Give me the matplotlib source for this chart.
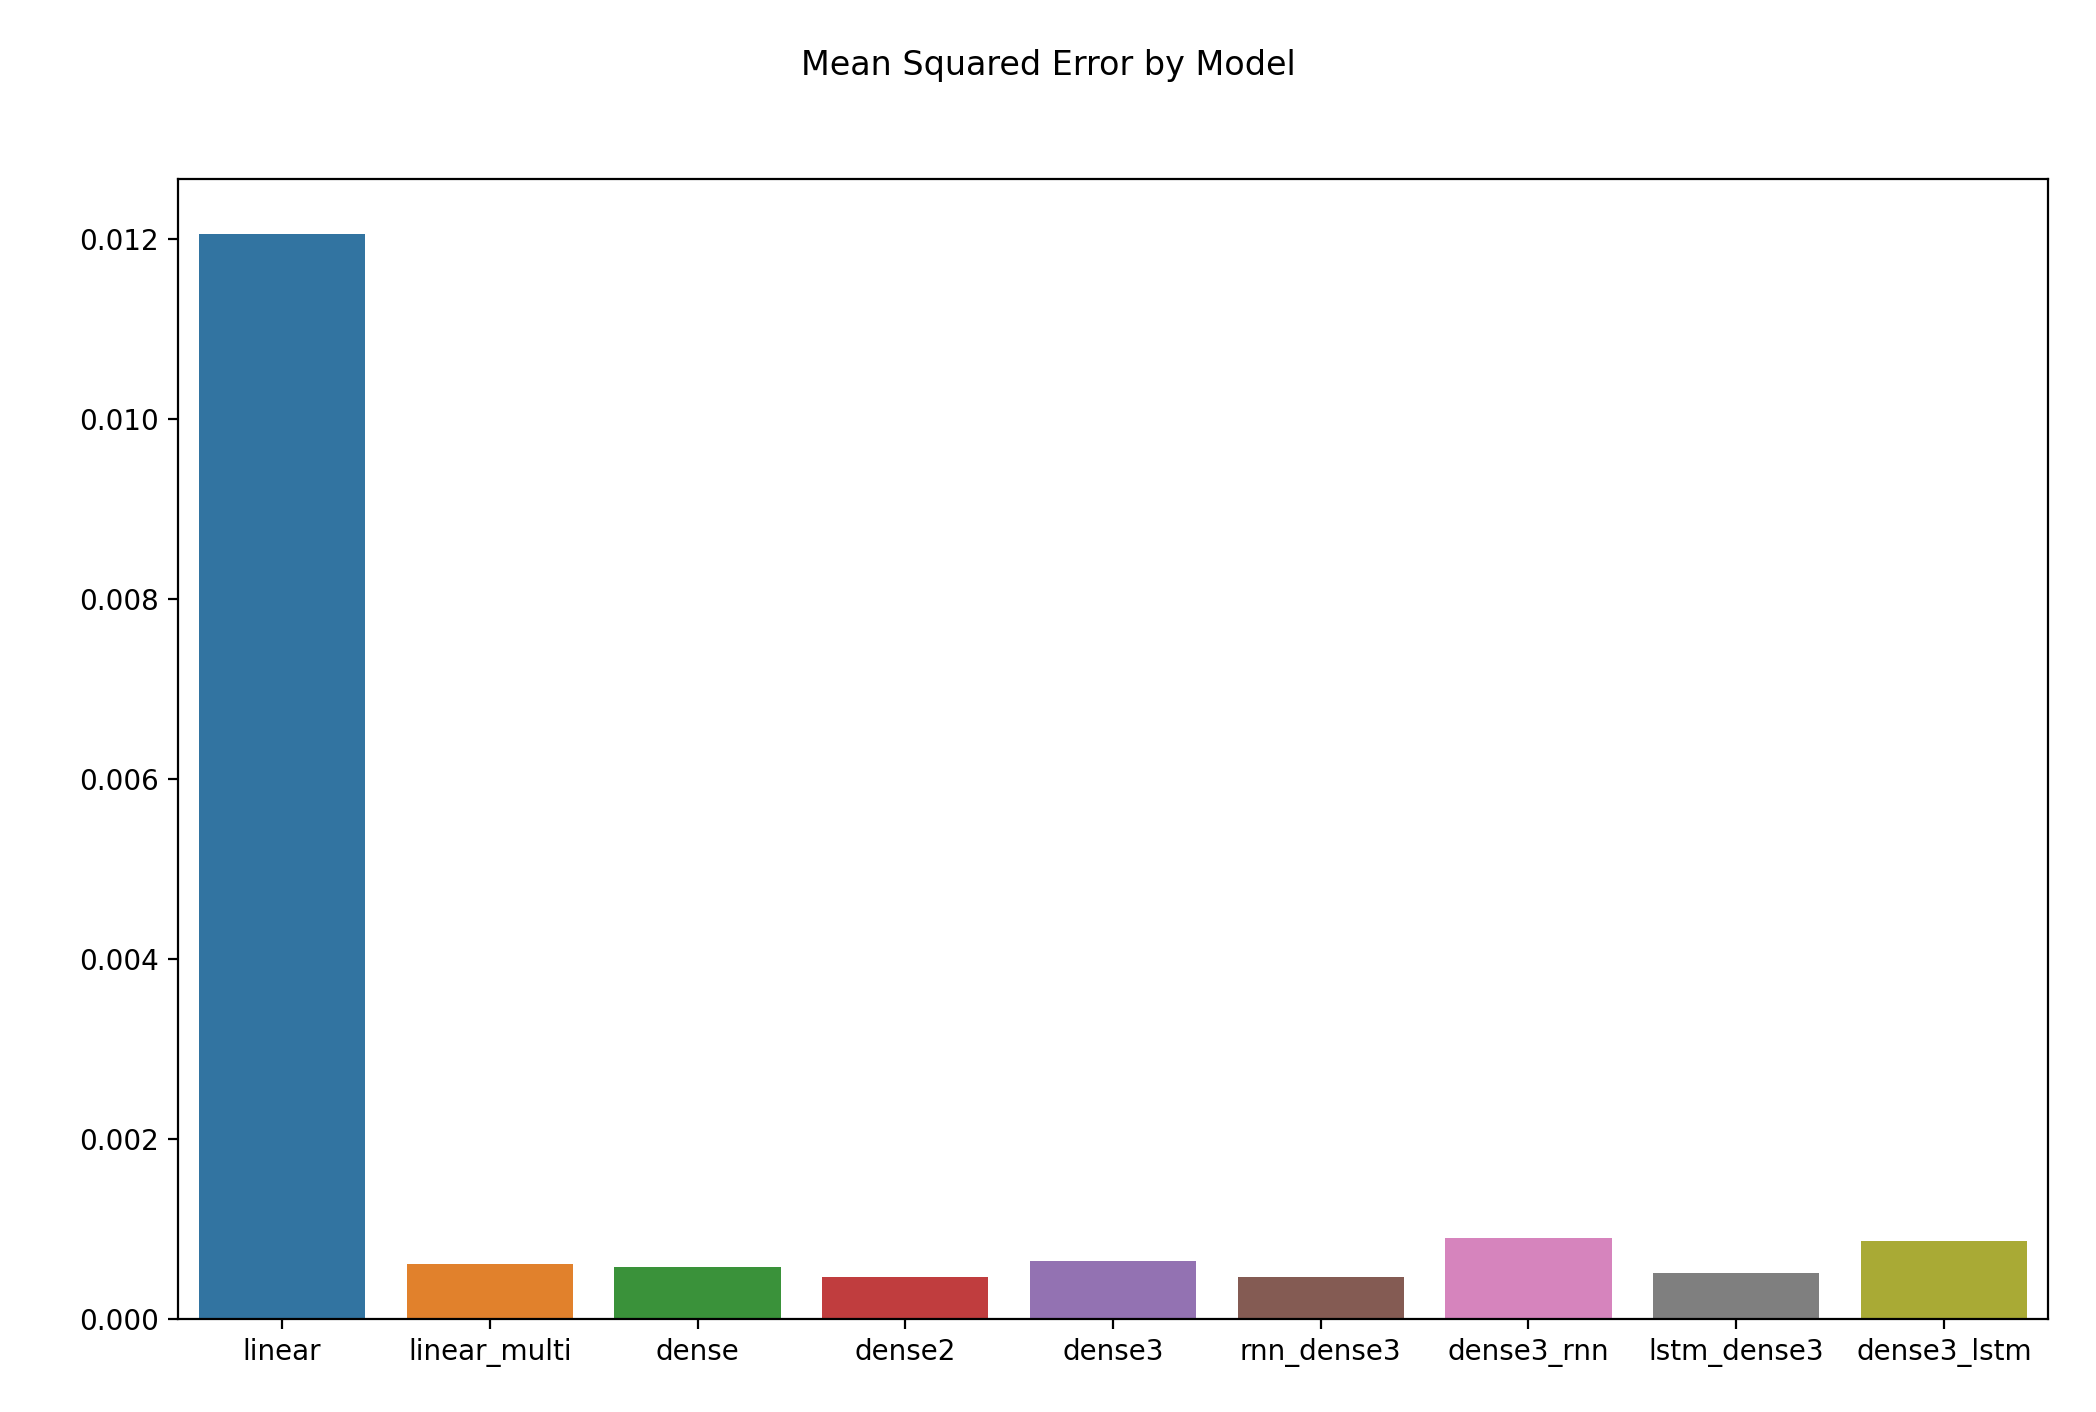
import numpy as np
import matplotlib
matplotlib.use("Agg")
import matplotlib.pyplot as plt
import seaborn as sns

models = ["linear", "linear_multi", "dense", "dense2", "dense3",
          "rnn_dense3", "dense3_rnn", "lstm_dense3", "dense3_lstm"]
mse = [0.01206, 0.00061, 0.00058, 0.00046, 0.00064,
       0.00046, 0.00090, 0.00051, 0.00087]

colors = [sns.desaturate(c, 0.75) for c in sns.color_palette("tab10", len(models))]

fig = plt.figure(figsize=(10.48, 7.06), dpi=200)
ax = fig.add_axes([0.085, 0.066, 0.892, 0.807])
x = np.arange(len(models))
ax.bar(x, mse, width=0.8, color=colors)
ax.set_xticks(x)
ax.set_xticklabels(models)
ax.set_xlim(-0.5, len(models) - 0.5)
fig.suptitle("Mean Squared Error by Model", y=0.965)
fig.savefig("out.png", dpi=200)
